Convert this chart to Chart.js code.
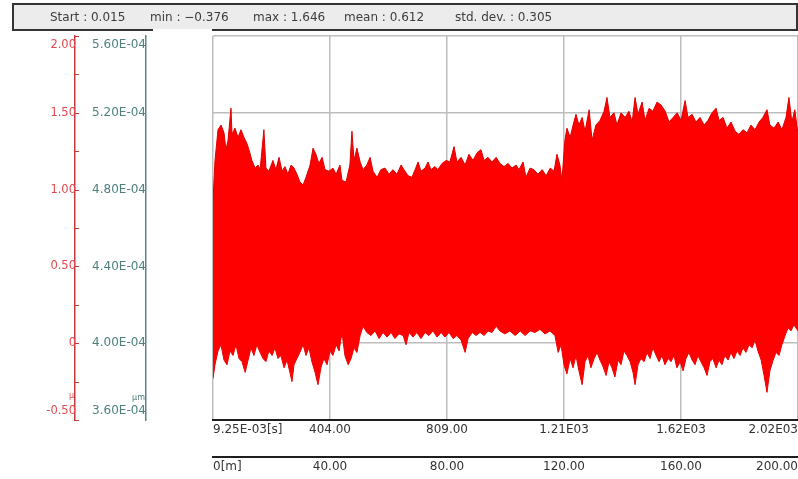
<!DOCTYPE html>
<html>
<head>
<meta charset="utf-8">
<script src="https://cdn.jsdelivr.net/npm/chart.js@4/dist/chart.umd.min.js"></script>
<style>
  html, body { margin: 0; padding: 0; background: #fff; }
  #wrap { position: relative; width: 798px; height: 479px; overflow: hidden; }
  #chart { position: absolute; left: 0; top: 0; }
  #stats {
    position: absolute; left: 12px; top: 3px; width: 782px; height: 24px;
    border: 2px solid #333; background: #ececec;
    font: 12px "DejaVu Sans", sans-serif; color: #3c3c3c;
  }
  #stats span { position: absolute; top: 0; line-height: 24px; white-space: nowrap; }
  #mask { position: absolute; left: 153px; top: 29px; width: 59px; height: 3px; background: #fff; }
</style>
</head>
<body>
<div id="wrap">
  <canvas id="chart" width="798" height="479"></canvas>
  <div id="stats">
    <span style="left:36px">Start : 0.015</span>
    <span style="left:136px">min : −0.376</span>
    <span style="left:239px">max : 1.646</span>
    <span style="left:330px">mean : 0.612</span>
    <span style="left:441px">std. dev. : 0.305</span>
  </div>
  <div id="mask"></div>
</div>
<script>
// envelope of the waveform (x in m, y in left-axis units)
const upperX = [0, 0.68, 1.71, 2.74, 3.76, 4.44, 5.13, 6.15, 6.5, 7.52, 8.55, 9.57, 10.6, 11.6, 12.3, 13.3,
  14.4, 15.4, 16.1, 17.4, 18.1, 19.1, 20.5, 21.5, 22.6, 23.6, 24.6, 25.6, 26.7, 27.7, 28.7, 29.7, 30.8,
  31.8, 33.2, 34.2, 35.2, 36.2, 37.3, 38.3, 39.7, 41.0, 42.1, 43.4, 44.1, 45.5, 46.8, 47.5, 48.2, 49.2,
  50.3, 51.3, 52.6, 53.7, 54.7, 56.1, 57.4, 58.8, 60.2, 61.5, 62.9, 64.3, 65.3, 66.7, 68.0, 69.1, 70.1,
  71.1, 72.5, 73.5, 74.5, 75.9, 76.9, 78.3, 79.7, 81.0, 82.4, 83.4, 84.8, 86.2, 87.5, 88.9, 90.3, 91.6,
  92.7, 94.0, 95.4, 96.8, 98.1, 99.5, 100.9, 102.2, 103.6, 104.6, 106.0, 107.0, 108.4, 109.7, 111.1,
  112.5, 113.9, 115.3, 116.6, 117.6, 118.6, 119.3, 120.3, 121.0, 122.1, 123.1, 124.1, 125.1, 126.2,
  127.2, 128.6, 129.6, 130.9, 132.3, 133.7, 134.7, 135.7, 137.1, 138.1, 139.5, 140.9, 142.2, 143.3,
  144.3, 145.3, 146.7, 147.7, 149.1, 150.4, 151.8, 153.2, 154.6, 155.9, 157.3, 158.7, 160.0, 161.4,
  162.4, 163.8, 165.1, 166.5, 167.9, 169.2, 170.6, 172.0, 173.0, 174.4, 175.7, 177.1, 178.5, 179.8,
  181.2, 182.6, 183.9, 185.3, 186.7, 188.0, 189.4, 190.4, 191.8, 193.2, 194.5, 195.9, 196.9, 197.9,
  198.9, 200];
const upperY = [0.93, 1.19, 1.39, 1.42, 1.37, 1.26, 1.32, 1.53, 1.36, 1.40, 1.34, 1.39, 1.34, 1.30, 1.26, 1.19,
  1.14, 1.16, 1.13, 1.39, 1.14, 1.12, 1.19, 1.13, 1.21, 1.12, 1.15, 1.10, 1.16, 1.14, 1.10, 1.05, 1.03,
  1.08, 1.16, 1.27, 1.23, 1.17, 1.21, 1.13, 1.12, 1.14, 1.10, 1.16, 1.06, 1.05, 1.16, 1.38, 1.19, 1.27,
  1.18, 1.13, 1.16, 1.21, 1.12, 1.08, 1.13, 1.14, 1.10, 1.13, 1.10, 1.16, 1.13, 1.09, 1.08, 1.13, 1.18,
  1.12, 1.14, 1.18, 1.13, 1.15, 1.13, 1.17, 1.19, 1.18, 1.28, 1.18, 1.21, 1.16, 1.23, 1.19, 1.24, 1.26,
  1.19, 1.21, 1.18, 1.21, 1.17, 1.15, 1.17, 1.14, 1.16, 1.13, 1.18, 1.08, 1.14, 1.13, 1.10,
  1.13, 1.09, 1.14, 1.12, 1.23, 1.16, 1.06, 1.32, 1.40, 1.34, 1.42, 1.49, 1.42, 1.47,
  1.38, 1.52, 1.32, 1.42, 1.45, 1.51, 1.60, 1.47, 1.50, 1.42, 1.50, 1.47, 1.51, 1.44,
  1.60, 1.49, 1.57, 1.45, 1.53, 1.51, 1.57, 1.55, 1.51, 1.44, 1.47, 1.50, 1.45, 1.58,
  1.47, 1.49, 1.44, 1.47, 1.42, 1.45, 1.50, 1.53, 1.45, 1.47, 1.40, 1.44, 1.38, 1.36,
  1.39, 1.37, 1.42, 1.39, 1.44, 1.47, 1.52, 1.42, 1.40, 1.44, 1.39, 1.47, 1.60, 1.44,
  1.52, 1.36];
const lowerX = [0, 0.68, 1.71, 2.74, 3.76, 4.79, 5.81, 6.84, 7.86, 8.89, 9.9, 11.0, 12.0, 13.0, 14.0, 15.0,
  16.1, 17.1, 18.1, 19.1, 20.2, 21.2, 22.2, 23.2, 24.3, 25.3, 26.3, 27.0, 27.7, 28.7, 29.7, 30.8, 31.8,
  32.8, 33.8, 34.9, 35.9, 36.9, 37.9, 39.0, 40.0, 41.0, 42.1, 43.1, 44.1, 45.1, 46.2, 47.2, 48.2, 49.2,
  50.3, 51.3, 52.6, 54.0, 55.4, 56.8, 58.1, 59.5, 60.9, 62.2, 63.6, 65.0, 66.0, 67.0, 68.4, 69.7, 71.1,
  72.5, 73.8, 75.2, 76.6, 78.0, 79.3, 80.7, 82.1, 83.4, 84.8, 86.2, 87.2, 88.6, 89.9, 91.3, 92.7, 94.0,
  95.4, 96.8, 98.1, 99.8, 101.5, 103.3, 105.0, 106.7, 108.4, 110.1, 111.8, 113.5, 115.2, 116.9, 118.0,
  119.0, 120.0, 121.0, 122.1, 123.1, 124.1, 125.1, 126.2, 127.2, 128.2, 129.2, 130.3, 131.3, 132.3,
  133.3, 134.4, 135.4, 136.4, 137.4, 138.5, 139.5, 140.5, 141.5, 142.6, 143.6, 144.3, 145.3, 146.3,
  147.4, 148.4, 149.4, 150.4, 151.5, 152.5, 153.5, 154.5, 155.6, 156.6, 157.6, 158.6, 159.7, 160.7,
  161.7, 162.7, 163.8, 164.8, 165.8, 166.8, 167.9, 168.9, 169.9, 170.9, 172.0, 173.0, 174.0, 175.0,
  176.1, 177.1, 178.1, 179.2, 180.2, 181.2, 182.2, 183.3, 184.3, 185.3, 186.3, 187.4, 188.4, 189.4,
  190.4, 191.5, 192.5, 193.5, 194.5, 195.6, 196.6, 197.6, 198.6, 200];
const lowerY = [-0.23, -0.14, -0.05, -0.01, -0.11, -0.14, -0.05, -0.08, -0.01, -0.10, -0.12, -0.19, -0.11, -0.03, -0.08, -0.01,
  -0.06, -0.10, -0.12, -0.05, -0.08, -0.03, -0.10, -0.08, -0.16, -0.11, -0.19, -0.25, -0.14, -0.10, -0.06, -0.01, -0.08,
  -0.03, -0.12, -0.19, -0.27, -0.16, -0.10, -0.14, -0.05, -0.08, -0.01, -0.05, 0.07, -0.08, -0.14, -0.10, -0.03, -0.06,
  0.05, 0.11, 0.07, 0.05, 0.08, 0.03, 0.07, 0.04, 0.07, 0.03, 0.06, 0.05, -0.01, 0.07, 0.04, 0.07, 0.03,
  0.07, 0.05, 0.08, 0.04, 0.07, 0.04, 0.07, 0.03, 0.05, 0.02, -0.06, 0.03, 0.07, 0.05, 0.07, 0.05, 0.08,
  0.07, 0.11, 0.08, 0.06, 0.08, 0.05, 0.08, 0.05, 0.08, 0.07, 0.09, 0.06, 0.08, 0.05, -0.06,
  -0.01, -0.14, -0.20, -0.10, -0.16, -0.08, -0.18, -0.27, -0.12, -0.08, -0.16, -0.10, -0.06, -0.11,
  -0.15, -0.21, -0.12, -0.16, -0.22, -0.11, -0.14, -0.05, -0.08, -0.12, -0.19, -0.27, -0.14, -0.10,
  -0.12, -0.06, -0.10, -0.03, -0.08, -0.12, -0.08, -0.14, -0.10, -0.12, -0.08, -0.16, -0.12, -0.18,
  -0.10, -0.06, -0.11, -0.14, -0.08, -0.12, -0.16, -0.21, -0.12, -0.10, -0.16, -0.11, -0.14, -0.08,
  -0.11, -0.06, -0.10, -0.05, -0.08, -0.03, -0.06, -0.01, -0.03, 0.02, -0.05, -0.11, -0.21, -0.32,
  -0.18, -0.11, -0.06, -0.08, -0.01, 0.05, 0.10, 0.08, 0.12, 0.08];

// axis ticks
const redTicks = [-0.5, 0, 0.5, 1.0, 1.5, 2.0];
const redTickLabels = ['-0.50', '0', '0.50', '1.00', '1.50', '2.00'];
const redMinorTicks = [-0.25, 0.25, 0.75, 1.25, 1.75];
const tealTicks = [3.6e-4, 4.0e-4, 4.4e-4, 4.8e-4, 5.2e-4, 5.6e-4];
const tealTickLabels = ['3.60E-04', '4.00E-04', '4.40E-04', '4.80E-04', '5.20E-04', '5.60E-04'];
const gridRows = [0, 0.75, 1.5, 2.0];
const distTicks = [0, 40, 80, 120, 160, 200];
const distTickLabels = ['0[m]', '40.00', '80.00', '120.00', '160.00', '200.00'];
const timeTickLabels = ['9.25E-03[s]', '404.00', '809.00', '1.21E03', '1.62E03', '2.02E03'];

const RED = '#ff0000';
const EDGE_RED = '#dc0000';
const AXIS_RED = '#c23a3a';
const LABEL_RED = '#e4484f';
const TEAL = '#5a8686';
const LABEL_TEAL = '#4f8080';
const FONT = '"DejaVu Sans", sans-serif';

function fixWidth(w) { return s => { s.width = w; }; }
// fixed height, and no side padding so the plot runs to the right edge
function fixHeight(h) { return s => { s.height = h; s.paddingLeft = 0; s.paddingRight = 0; }; }

const leftLabels = {
  id: 'leftLabels',
  afterDraw(chart) {
    const ctx = chart.ctx;
    const red = chart.scales.yRed, teal = chart.scales.yTeal;
    ctx.save();
    ctx.textBaseline = 'middle';
    ctx.textAlign = 'right';
    const place = (s, v) => Math.min(Math.max(s.getPixelForValue(v), s.top + 9), s.bottom - 9);
    ctx.font = '11.5px ' + FONT;
    ctx.fillStyle = LABEL_RED;
    redTicks.forEach((v, i) => ctx.fillText(redTickLabels[i], red.right + 1, place(red, v)));
    ctx.font = '12px ' + FONT;
    ctx.fillStyle = LABEL_TEAL;
    tealTicks.forEach((v, i) => ctx.fillText(tealTickLabels[i], teal.right, place(teal, v)));

    // small tick marks on the red axis
    ctx.strokeStyle = AXIS_RED;
    ctx.lineWidth = 1;
    redTicks.concat(redMinorTicks).forEach(v => {
      const y = Math.round(red.getPixelForValue(v)) + 0.5;
      ctx.beginPath();
      ctx.moveTo(red.right, y);
      ctx.lineTo(red.right + 4, y);
      ctx.stroke();
    });

    // unit labels
    ctx.font = '8px ' + FONT;
    ctx.textBaseline = 'alphabetic';
    ctx.fillStyle = LABEL_RED;
    ctx.fillText('µ', red.right - 1, red.bottom - 22);
    ctx.fillStyle = LABEL_TEAL;
    ctx.fillText('µm', teal.right - 1, teal.bottom - 20);
    ctx.restore();
  }
};

function initChart() {
  const ctx = document.getElementById('chart');
  new Chart(ctx, {
    type: 'line',
    data: {
      datasets: [
        {
          data: upperX.map((x, i) => ({ x, y: upperY[i] })),
          borderColor: EDGE_RED, borderWidth: 1, backgroundColor: RED,
          fill: 1, pointRadius: 0, tension: 0, xAxisID: 'x', yAxisID: 'y'
        },
        {
          data: lowerX.map((x, i) => ({ x, y: lowerY[i] })),
          borderColor: EDGE_RED, borderWidth: 1, backgroundColor: RED,
          fill: false, pointRadius: 0, tension: 0, xAxisID: 'x', yAxisID: 'y'
        }
      ]
    },
    options: {
      responsive: false,
      animation: false,
      devicePixelRatio: 1,
      layout: { padding: { top: 36, left: 0, right: 0, bottom: 0 } },
      plugins: { legend: { display: false }, tooltip: { enabled: false } },
      scales: {
        x: {
          type: 'linear', position: 'bottom', weight: 1, min: 0, max: 200,
          afterBuildTicks: s => { s.ticks = distTicks.map(v => ({ value: v })); },
          ticks: {
            callback: (v, i) => timeTickLabels[i], align: 'inner', autoSkip: false, maxRotation: 0,
            color: '#333', font: { family: FONT, size: 12 }, padding: 3
          },
          grid: { color: '#bdbdbd', lineWidth: 1.5, drawTicks: false },
          border: { color: '#1e1e1e', width: 2 },
          afterFit: fixHeight(37)
        },
        x2: {
          type: 'linear', position: 'bottom', weight: 2, min: 0, max: 200,
          afterBuildTicks: s => { s.ticks = distTicks.map(v => ({ value: v })); },
          ticks: {
            callback: (v, i) => distTickLabels[i], align: 'inner', autoSkip: false, maxRotation: 0,
            color: '#333', font: { family: FONT, size: 12 }, padding: 3
          },
          grid: { drawOnChartArea: false, drawTicks: false },
          border: { color: '#1e1e1e', width: 2 },
          afterFit: fixHeight(22)
        },
        y: {
          type: 'linear', position: 'left', weight: 1, min: -0.5, max: 2.0,
          afterBuildTicks: s => { s.ticks = gridRows.map(v => ({ value: v })); },
          ticks: { display: false },
          grid: { color: '#bdbdbd', lineWidth: 1.5, drawTicks: false },
          border: { display: false },
          afterFit: fixWidth(67)
        },
        yTeal: {
          type: 'linear', position: 'left', weight: 2, min: 3.6e-4, max: 5.6e-4,
          ticks: { display: false },
          grid: { drawOnChartArea: false, drawTicks: false },
          border: { color: TEAL, width: 1.5 },
          afterFit: fixWidth(71)
        },
        yRed: {
          type: 'linear', position: 'left', weight: 3, min: -0.5, max: 2.0,
          ticks: { display: false },
          grid: { drawOnChartArea: false, drawTicks: false },
          border: { color: AXIS_RED, width: 1.5 },
          afterFit: fixWidth(75)
        }
      }
    },
    plugins: [leftLabels]
  });
}

window.addEventListener('DOMContentLoaded', initChart);
</script>
</body>
</html>
